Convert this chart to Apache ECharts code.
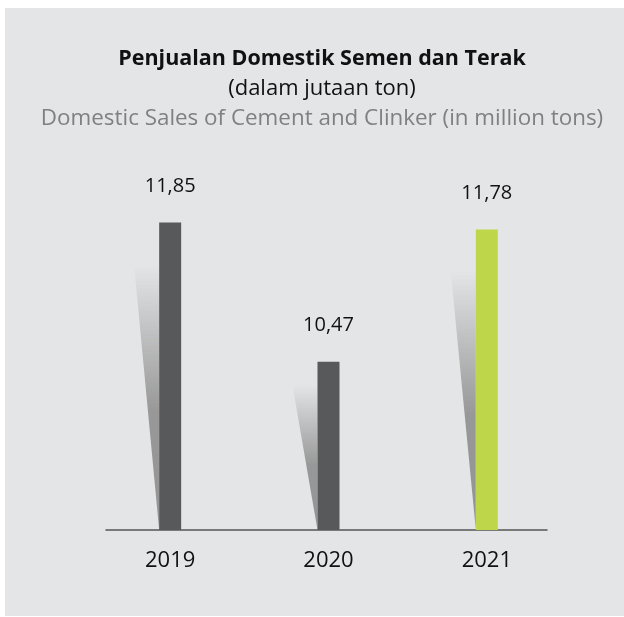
<!DOCTYPE html>
<html>
<head>
<meta charset="utf-8">
<script src="https://cdn.jsdelivr.net/npm/echarts@6/dist/echarts.min.js"></script>
<style>
  html, body { margin: 0; padding: 0; background: #ffffff; }
  #main { position: absolute; left: 5px; top: 8px; width: 619px; height: 608px; background: #e4e5e7; }
</style>
</head>
<body>
<div id="main"></div>
<script>
var years = ['2019', '2020', '2021'];
var sales = [11.85, 10.47, 11.78];
var barColors = ['#58595b', '#58595b', '#bed64a'];

var yMin = 8.8;
var yMax = 12.5;
var font = 'Open Sans';

var myChart = echarts.init(document.getElementById('main'));

// segitiga bayangan di kiri tiap batang
function renderShadow(params, api) {
    var i = api.value(0);
    var v = api.value(1);
    var base = api.coord([i, yMin]);
    var top = api.coord([i, v]);
    var barLeft = base[0] - 11;
    var sTop = base[1] - (base[1] - top[1]) * 0.86;
    return {
        type: 'polygon',
        shape: {
            points: [[barLeft - 25, sTop], [barLeft, sTop], [barLeft, base[1]]]
        },
        style: {
            fill: new echarts.graphic.LinearGradient(0, 0, 0, 1, [
                { offset: 0, color: 'rgba(150,150,150,0)' },
                { offset: 0.55, color: 'rgba(152,152,152,1)' },
                { offset: 1, color: 'rgba(148,148,148,1)' }
            ])
        },
        silent: true
    };
}

option = {
    animation: false,
    title: [
        {
            text: 'Penjualan Domestik Semen dan Terak',
            left: 312, top: 35, textAlign: 'center',
            textStyle: { fontFamily: font, fontWeight: 'bold', fontSize: 21.5, color: '#111111' }
        },
        {
            text: '(dalam jutaan ton)',
            left: 312, top: 65, textAlign: 'center',
            textStyle: { fontFamily: font, fontWeight: 'normal', fontSize: 22, color: '#111111' }
        },
        {
            text: 'Domestic Sales of Cement and Clinker (in million tons)',
            left: 312, top: 95, textAlign: 'center',
            textStyle: { fontFamily: font, fontWeight: 'normal', fontSize: 22.4, color: '#808080' }
        }
    ],
    grid: [
        { left: 86, width: 475, top: 149, bottom: 86 },
        { left: 101, width: 441, top: 149, bottom: 86 }
    ],
    xAxis: [
        {
            type: 'category',
            gridIndex: 0,
            data: years,
            axisLine: { show: false },
            axisTick: { show: false },
            axisLabel: { margin: 20, fontFamily: font, fontSize: 22, color: '#111111' }
        },
        {
            type: 'category',
            gridIndex: 1,
            data: years,
            axisLine: { lineStyle: { color: '#555555', width: 1.5 } },
            axisTick: { show: false },
            axisLabel: { show: false }
        }
    ],
    yAxis: [
        { type: 'value', gridIndex: 0, min: yMin, max: yMax, show: false },
        { type: 'value', gridIndex: 1, min: yMin, max: yMax, show: false }
    ],
    series: [
        {
            type: 'custom',
            xAxisIndex: 0,
            yAxisIndex: 0,
            renderItem: renderShadow,
            data: years.map(function (y, i) { return [i, sales[i]]; }),
            z: 1
        },
        {
            type: 'bar',
            xAxisIndex: 0,
            yAxisIndex: 0,
            barWidth: 22,
            data: sales.map(function (v, i) {
                return { value: v, itemStyle: { color: barColors[i] } };
            }),
            label: {
                show: true,
                position: 'top',
                distance: 26,
                fontFamily: font,
                fontSize: 20,
                color: '#111111',
                formatter: function (p) { return p.value.toFixed(2).replace('.', ','); }
            },
            z: 2
        }
    ]
};
myChart.setOption(option);
</script>
</body>
</html>
